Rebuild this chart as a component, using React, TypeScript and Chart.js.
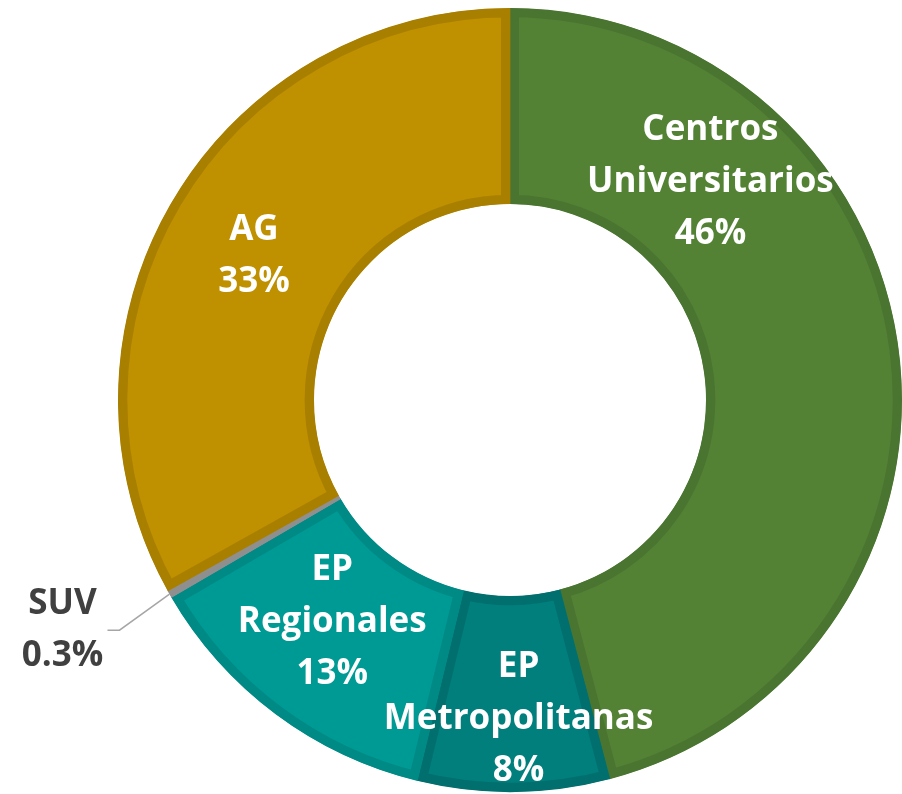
import React, { useEffect, useRef } from "react";
import { Chart, registerables } from "chart.js";

Chart.register(...registerables);

const categories = ["Centros Universitarios", "EP Metropolitanas", "EP Regionales", "SUV", "AG"];
const values = [45.9, 7.9, 12.8, 0.3, 33.1];
const labelLines = [
  ["Centros", "Universitarios", "46%"],
  ["EP", "Metropolitanas", "8%"],
  ["EP", "Regionales", "13%"],
  ["SUV", "0.3%"],
  ["AG", "33%"],
];
const fillColors = ["#548235", "#007f7d", "#009a95", "#a5a5a5", "#bf9000"];
const borderColors = ["#4a7530", "#006f6d", "#008a86", "#8f8f8f", "#a97f00"];

// label placement relative to each arc: angle shift (deg), radius fraction of ring (0 inner..1 outer)
const labelAngleShift = [-40, -1, 2, 0, -1];
const labelRadiusFrac = [0.51, 0.63, 0.45, 0, 0.5];

const labelPlugin = {
  id: "donutLabels",
  afterDatasetsDraw(chart: any) {
    const ctx = chart.ctx;
    const meta = chart.getDatasetMeta(0);
    const fontSize = 35;
    const lineH = 52;
    ctx.save();
    ctx.font = `bold ${fontSize}px "Open Sans", Lato, sans-serif`;
    ctx.textAlign = "center";
    ctx.textBaseline = "middle";
    meta.data.forEach((arc: any, i: number) => {
      const p = arc.getProps(["x", "y", "startAngle", "endAngle", "innerRadius", "outerRadius"], true);
      const mid = (p.startAngle + p.endAngle) / 2;
      const lines = labelLines[i];
      if (categories[i] === "SUV") {
        const ox = p.x + Math.cos(mid) * p.outerRadius;
        const oy = p.y + Math.sin(mid) * p.outerRadius;
        const ex = ox - 50;
        const ey = oy + 36;
        ctx.strokeStyle = "#a6a6a6";
        ctx.lineWidth = 1.5;
        ctx.beginPath();
        ctx.moveTo(ox, oy);
        ctx.lineTo(ex, ey);
        ctx.lineTo(ex - 12, ey);
        ctx.stroke();
        ctx.fillStyle = "#404040";
        const cx = ex - 57;
        const cy = ey;
        ctx.fillText(lines[0], cx, cy - lineH / 2);
        ctx.fillText(lines[1], cx, cy + lineH / 2);
        return;
      }
      const a = mid + (labelAngleShift[i] * Math.PI) / 180;
      const r = p.innerRadius + (p.outerRadius - p.innerRadius) * labelRadiusFrac[i];
      const cx = p.x + Math.cos(a) * r;
      const cy = p.y + Math.sin(a) * r;
      ctx.fillStyle = "#ffffff";
      const n = lines.length;
      lines.forEach((t: string, k: number) => {
        ctx.fillText(t, cx, cy + (k - (n - 1) / 2) * lineH);
      });
    });
    ctx.restore();
  },
};

export default function App() {
  const ref = useRef<HTMLCanvasElement | null>(null);
  useEffect(() => {
    if (!ref.current) return;
    const chart = new Chart(ref.current, {
      type: "doughnut",
      data: {
        labels: categories,
        datasets: [
          {
            data: values,
            backgroundColor: fillColors,
            borderColor: borderColors,
            borderWidth: 9,
            borderAlign: "inner",
          } as any,
        ],
      },
      options: {
        responsive: false,
        animation: false,
        cutout: "50%",
        layout: { padding: { left: 118, right: 0, top: 8, bottom: 2 } },
        plugins: { legend: { display: false }, tooltip: { enabled: false } },
      },
      plugins: [labelPlugin],
    });
    return () => chart.destroy();
  }, []);
  return (
    <div style={{ position: "absolute", left: 0, top: 0, width: 902, height: 794, background: "#fff" }}>
      <canvas ref={ref} width={902} height={794} />
    </div>
  );
}
